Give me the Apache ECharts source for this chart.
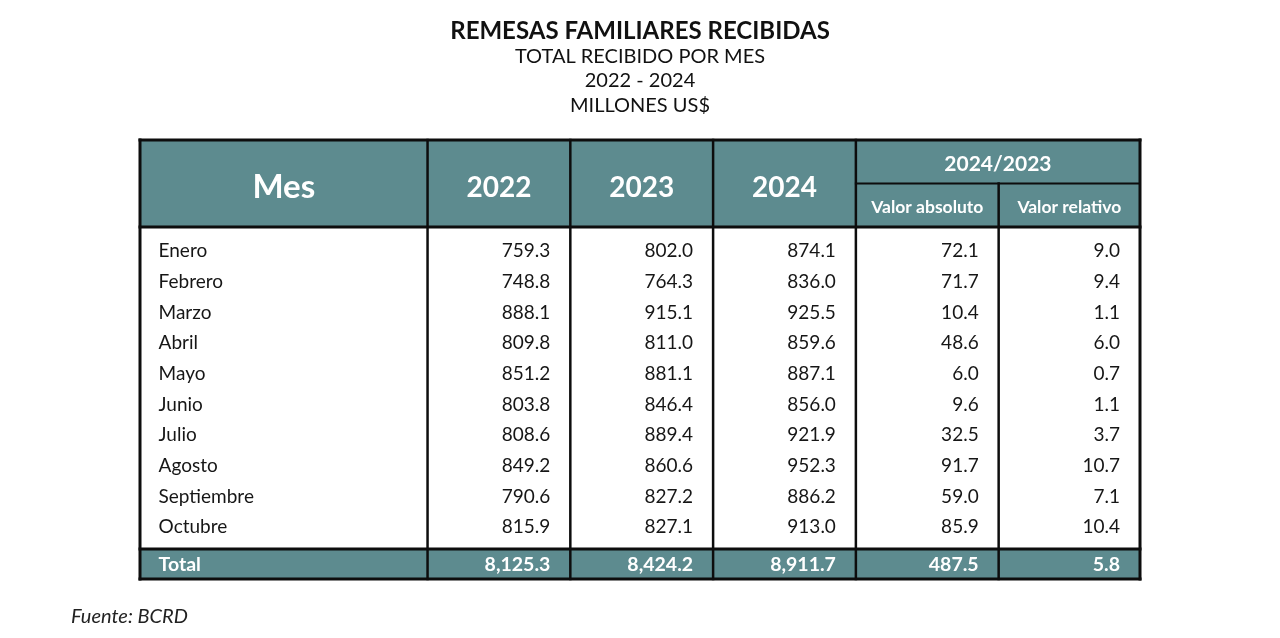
<!DOCTYPE html>
<html>
<head>
<meta charset="utf-8">
<script src="https://cdn.jsdelivr.net/npm/echarts@6/dist/echarts.min.js"></script>
<style>html,body{margin:0;padding:0;background:#fff}#c{width:1280px;height:638px}</style>
</head>
<body>
<div id="c"></div>
<script>
// ---- Data ----
const months = ['Enero','Febrero','Marzo','Abril','Mayo','Junio','Julio','Agosto','Septiembre','Octubre'];
const y2022 = [759.3, 748.8, 888.1, 809.8, 851.2, 803.8, 808.6, 849.2, 790.6, 815.9];
const y2023 = [802.0, 764.3, 915.1, 811.0, 881.1, 846.4, 889.4, 860.6, 827.2, 827.1];
const y2024 = [874.1, 836.0, 925.5, 859.6, 887.1, 856.0, 921.9, 952.3, 886.2, 913.0];
const absDiff = [72.1, 71.7, 10.4, 48.6, 6.0, 9.6, 32.5, 91.7, 59.0, 85.9];
const relDiff = [9.0, 9.4, 1.1, 6.0, 0.7, 1.1, 3.7, 10.7, 7.1, 10.4];
const totals = [8125.3, 8424.2, 8911.7, 487.5, 5.8];
const totalLabel = 'Total';
const firstHeader = 'Mes';
const yearHeaders = ['2022', '2023', '2024'];
const groupHeader = '2024/2023';
const subHeaders = ['Valor absoluto', 'Valor relativo'];
const titleText = 'REMESAS FAMILIARES RECIBIDAS';
const subtitleLines = ['TOTAL RECIBIDO POR MES', '2022 - 2024', 'MILLONES US$'];
const sourceText = 'Fuente: BCRD';

// ---- Layout (axis units) ----
const colWeights = [2.014, 1, 1, 1, 1, 0.99];
const colEdges = [0];
colWeights.forEach(w => colEdges.push(colEdges[colEdges.length - 1] + w));
const X_MAX = colEdges[colEdges.length - 1];
const HEAD_SPLIT = 1.418, HEAD_END = 2.837, ROW0 = 3.587, TOTAL_TOP = 13.336, Y_MAX = 14.31;
const PAD_L = 0.13, PAD_R = 0.14;
const TEAL = '#5d8b8f', INK = '#161616', FONT = 'Lato';

const fmt = v => v.toLocaleString('en-US', {minimumFractionDigits: 1, maximumFractionDigits: 1});

// fills: [x0, x1, y0, y1]
const fills = [[0, X_MAX, 0, HEAD_END], [0, X_MAX, TOTAL_TOP, Y_MAX]];

// lines: [x0, y0, x1, y1, width]
const lines = [];
for (let i = 1; i < colEdges.length - 1; i++) {
  const top = (i === 5) ? HEAD_SPLIT : 0;
  lines.push([colEdges[i], top, colEdges[i], Y_MAX, 2.5]);
}
lines.push([colEdges[4], HEAD_SPLIT, X_MAX, HEAD_SPLIT, 2]);
lines.push([0, HEAD_END, X_MAX, HEAD_END, 3]);
lines.push([0, TOTAL_TOP, X_MAX, TOTAL_TOP, 3]);
lines.push([0, 0, X_MAX, 0, 3]);
lines.push([0, Y_MAX, X_MAX, Y_MAX, 3]);
lines.push([0, 0, 0, Y_MAX, 3]);
lines.push([X_MAX, 0, X_MAX, Y_MAX, 3]);

// texts: [x, y, text, align, style]
const styles = {
  mes: {fill: '#fff', fontSize: 33, fontWeight: 'bold', dy: 4},
  year: {fill: '#fff', fontSize: 28, fontWeight: 'bold', dy: 4},
  group: {fill: '#fff', fontSize: 21, fontWeight: 'bold', dy: 2.5},
  sub: {fill: '#fff', fontSize: 17.5, fontWeight: 'bold', dy: 2},
  body: {fill: INK, fontSize: 19, fontWeight: 'normal', dy: 1},
  total: {fill: '#fff', fontSize: 19.5, fontWeight: 'bold', dy: 0.5}
};
const texts = [];
const mid = i => (colEdges[i] + colEdges[i + 1]) / 2;
texts.push([mid(0), HEAD_END / 2, firstHeader, 'center', 'mes']);
yearHeaders.forEach((h, i) => texts.push([mid(i + 1), HEAD_END / 2, h, 'center', 'year']));
texts.push([(colEdges[4] + X_MAX) / 2, HEAD_SPLIT / 2, groupHeader, 'center', 'group']);
subHeaders.forEach((h, i) => texts.push([mid(i + 4), (HEAD_SPLIT + HEAD_END) / 2, h, 'center', 'sub']));
const cols = [y2022, y2023, y2024, absDiff, relDiff];
months.forEach((m, r) => {
  texts.push([colEdges[0] + PAD_L, ROW0 + r, m, 'left', 'body']);
  cols.forEach((arr, c) => texts.push([colEdges[c + 2] - PAD_R, ROW0 + r, fmt(arr[r]), 'right', 'body']));
});
const totalY = (TOTAL_TOP + Y_MAX) / 2;
texts.push([colEdges[0] + PAD_L, totalY, totalLabel, 'left', 'total']);
totals.forEach((v, c) => texts.push([colEdges[c + 2] - PAD_R, totalY, fmt(v), 'right', 'total']));

const chart = echarts.init(document.getElementById('c'));
chart.setOption({
  animation: false,
  title: [
    {text: titleText, left: 'center', top: 14, textStyle: {fontFamily: FONT, fontSize: 24, fontWeight: 'bold', color: '#111'}},
    {text: subtitleLines.join('\n'), left: 'center', top: 39, textStyle: {fontFamily: FONT, fontSize: 20, fontWeight: 'normal', color: '#111', lineHeight: 24.5}},
    {text: sourceText, left: 66, top: 602, textStyle: {fontFamily: FONT, fontSize: 20, fontStyle: 'italic', fontWeight: 'normal', color: '#222'}}
  ],
  grid: {left: 140, right: 140, top: 140, bottom: 59},
  xAxis: {type: 'value', min: 0, max: X_MAX, show: false},
  yAxis: {type: 'value', min: 0, max: Y_MAX, inverse: true, show: false},
  series: [
    {
      type: 'custom', data: fills, clip: false, z: 1,
      renderItem: (p, api) => {
        const a = api.coord([api.value(0), api.value(2)]);
        const b = api.coord([api.value(1), api.value(3)]);
        return {type: 'rect', shape: {x: a[0], y: a[1], width: b[0] - a[0], height: b[1] - a[1]}, style: {fill: TEAL}};
      }
    },
    {
      type: 'custom', data: texts.map(t => ({value: [t[0], t[1]], name: t[2]})), clip: false, z: 3,
      renderItem: (p, api) => {
        const d = texts[p.dataIndex];
        const pt = api.coord([api.value(0), api.value(1)]);
        const s = styles[d[4]];
        return {type: 'text', x: pt[0], y: pt[1] + s.dy, style: {text: d[2], fill: s.fill, font: s.fontWeight + ' ' + s.fontSize + 'px ' + FONT, textAlign: d[3], textVerticalAlign: 'middle'}};
      }
    },
    {
      type: 'custom', data: lines, clip: false, z: 4,
      renderItem: (p, api) => {
        const a = api.coord([api.value(0), api.value(1)]);
        const b = api.coord([api.value(2), api.value(3)]);
        return {type: 'line', shape: {x1: a[0], y1: a[1], x2: b[0], y2: b[1]}, style: {stroke: '#0d0d0d', lineWidth: api.value(4), lineCap: 'square'}};
      }
    }
  ]
});
</script>
</body>
</html>
